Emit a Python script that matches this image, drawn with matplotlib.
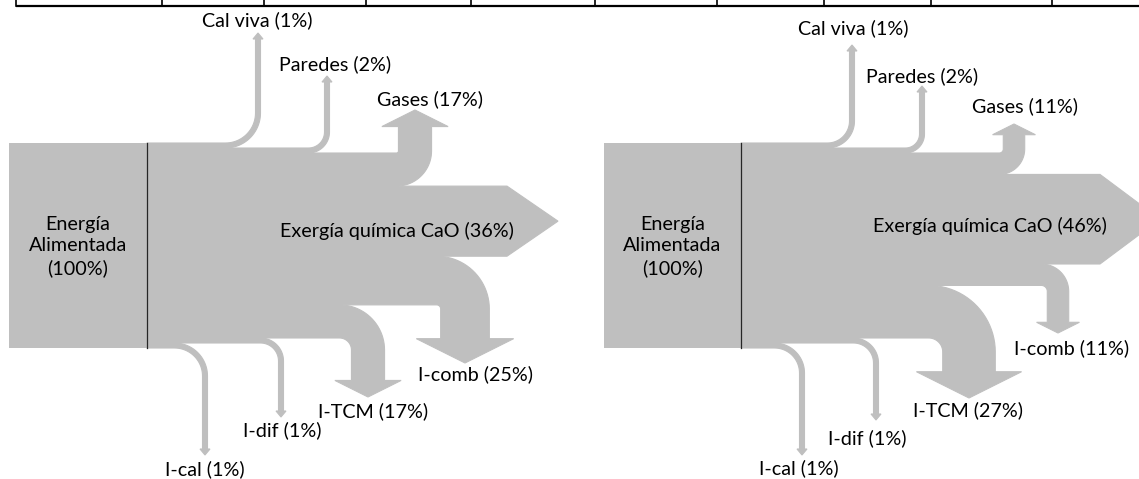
import numpy as np
import matplotlib.pyplot as plt
from matplotlib.patches import Polygon, Rectangle

plt.rcParams['font.family'] = ['Lato', 'DejaVu Sans']

# data
top_names = ['Cal viva', 'Paredes', 'Gases']
bottom_names = ['I-cal', 'I-dif', 'I-TCM', 'I-comb']
main_name = 'Exergía química CaO'
input_name = 'Energía\nAlimentada'
input_value = 100

top_a = [1, 2, 17]
main_a = 36
bottom_a = [1, 1, 17, 25]

top_b = [1, 2, 11]
main_b = 46
bottom_b = [1, 1, 27, 11]

table_x = [16, 162, 264, 366, 471, 595, 717, 824, 931, 1052]

GRAY = '#bfbfbf'
H0, H1 = 143, 348
MINW = 5
FS = 14.2

# layout (pixel positions of the drawing)
layout_a = dict(
    box=(9, 147),
    top_cx=[258, 327, 415], top_r=[30, 16, 2], top_tip=[33, 76, 110],
    bot_cx=[205, 281, 368, 465], bot_r=[28, 18, 12, 4], bot_tip=[455, 417, 397, 363],
    head_x=507, head_len=51,
    top_lab=[(257, 20), (335, 64), (430, 99)],
    bot_lab=[(205, 469), (282, 430), (373, 411), (475, 374)],
    main_lab=(397, 231),
)
layout_b = dict(
    box=(604, 741),
    top_cx=[852, 922, 1014], top_r=[22, 14, 4], top_tip=[45, 86, 124],
    bot_cx=[802, 876, 969, 1058], bot_r=[25, 20, 14, 6], bot_tip=[455, 420, 398, 333],
    head_x=1100, head_len=60,
    top_lab=[(853, 28), (922, 76), (1025, 106)],
    bot_lab=[(799, 468), (867, 438), (968, 410), (1072, 348)],
    main_lab=(990, 226),
)


def arc(cx, cy, r, a0, a1, n=24):
    t = np.radians(np.linspace(a0, a1, n))
    return [(cx + r * np.cos(a), cy + r * np.sin(a)) for a in t]


def band_widths(vals):
    vals = np.asarray(vals, float)
    small = vals * (H1 - H0) / input_value < MINW
    scale = (H1 - H0 - MINW * small.sum()) / vals[~small].sum()
    return np.where(small, MINW, vals * scale)


def head(w):
    return max(w, 5), max(w * 0.5, 6)


def up_flow(x0, y0, w, cx, r, tip):
    xl = cx - w / 2
    hw, hl = head(w)
    c = (xl - r, y0 - r)
    base = tip + hl
    pts = [(x0, y0 + w)] + arc(c[0], c[1], r + w, 90, 0)
    pts += [(xl + w, base), (cx + hw, base), (cx, tip), (cx - hw, base), (xl, base)]
    pts += arc(c[0], c[1], r, 0, 90) + [(x0, y0)]
    return pts


def down_flow(x0, y0, w, cx, r, tip):
    xl = cx - w / 2
    yb = y0 + w
    hw, hl = head(w)
    c = (xl - r, yb + r)
    base = tip - hl
    pts = [(x0, y0)] + arc(c[0], c[1], r + w, -90, 0)
    pts += [(xl + w, base), (cx + hw, base), (cx, tip), (cx - hw, base), (xl, base)]
    pts += arc(c[0], c[1], r, 0, -90) + [(x0, yb)]
    return pts


def draw_sankey(ax, top_vals, main_val, bot_vals, lay):
    bx0, bx1 = lay['box']
    vals = list(top_vals) + [main_val] + list(bot_vals)[::-1]
    w = band_widths(vals)
    y = H0 + np.concatenate([[0], np.cumsum(w)[:-1]])
    nt = len(top_vals)

    ax.add_patch(Rectangle((bx0, H0), bx1 - bx0, H1 - H0, color=GRAY, lw=0))
    for i in range(nt):
        pts = up_flow(bx1, y[i], w[i], lay['top_cx'][i], lay['top_r'][i], lay['top_tip'][i])
        ax.add_patch(Polygon(pts, closed=True, fc=GRAY, ec=GRAY, lw=0.8))
    ym, wm = y[nt], w[nt]
    hx = lay['head_x']
    ax.add_patch(Polygon([(bx1, ym), (hx, ym), (hx + lay['head_len'], ym + wm / 2),
                          (hx, ym + wm), (bx1, ym + wm)], closed=True, fc=GRAY, ec=GRAY, lw=0.8))
    nb = len(bot_vals)
    for j in range(nb):
        k = len(vals) - 1 - j
        pts = down_flow(bx1, y[k], w[k], lay['bot_cx'][j], lay['bot_r'][j], lay['bot_tip'][j])
        ax.add_patch(Polygon(pts, closed=True, fc=GRAY, ec=GRAY, lw=0.8))

    ax.plot([bx1, bx1], [H0, H1], color='#262626', lw=0.9)

    ax.text((bx0 + bx1) / 2, (H0 + H1) / 2 + 1, f'{input_name}\n({input_value}%)',
            ha='center', va='center', fontsize=FS, linespacing=1.3)
    for name, v, (tx, ty) in zip(top_names, top_vals, lay['top_lab']):
        ax.text(tx, ty, f'{name} ({v}%)', ha='center', va='center', fontsize=FS)
    for name, v, (tx, ty) in zip(bottom_names, bot_vals, lay['bot_lab']):
        ax.text(tx, ty, f'{name} ({v}%)', ha='center', va='center', fontsize=FS)
    ax.text(*lay['main_lab'], f'{main_name} ({main_val}%)', ha='center', va='center', fontsize=FS)


fig = plt.figure(figsize=(11.39, 4.79), dpi=100)
ax = fig.add_axes([0, 0, 1, 1])
ax.set_xlim(0, 1139)
ax.set_ylim(479, 0)
ax.axis('off')

# top border of the table above
ax.plot([table_x[0], 1139], [6, 6], color='black', lw=1.6, solid_capstyle='butt')
for x in table_x:
    ax.plot([x, x], [0, 6], color='black', lw=1.2)

draw_sankey(ax, top_a, main_a, bottom_a, layout_a)
draw_sankey(ax, top_b, main_b, bottom_b, layout_b)

fig.savefig('out.png', dpi=100)
